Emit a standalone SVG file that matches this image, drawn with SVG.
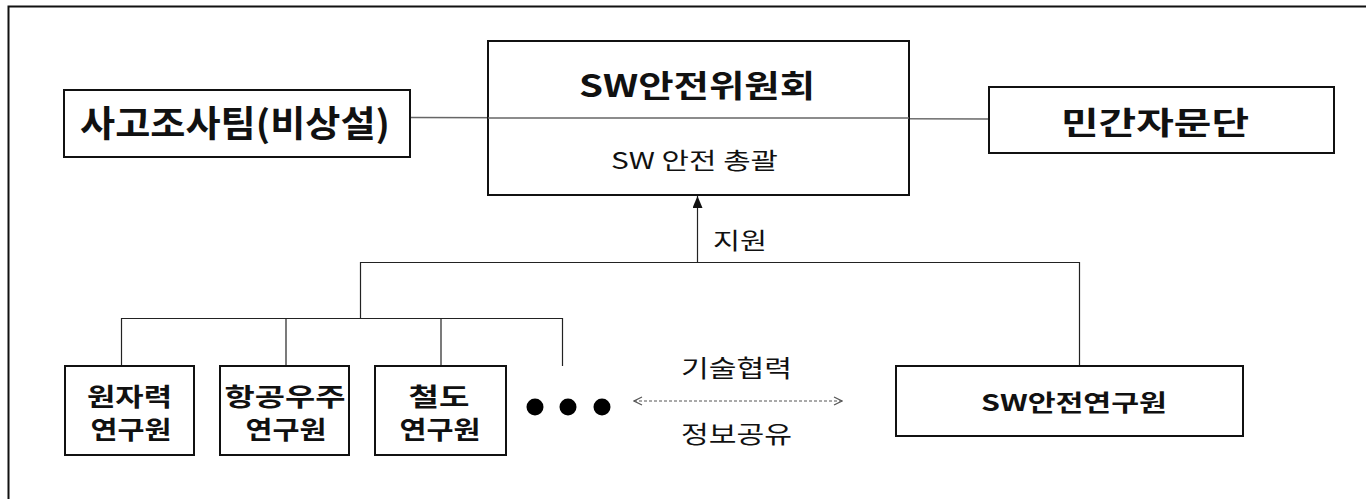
<svg xmlns="http://www.w3.org/2000/svg" width="1366" height="499" viewBox="0 0 1366 499">
  <defs>
    <style>
      .box { fill: #fff; stroke: #111; stroke-width: 2; }
      .t { font-family: "Noto Sans CJK KR", "Noto Sans", sans-serif; fill: #111; text-anchor: middle; dominant-baseline: central; }
      .b { font-weight: bold; }
      .ln { fill: none; stroke: #222; stroke-width: 1.2; }
      .gl { fill: none; stroke: #666; stroke-width: 1.4; }
      .dash { fill: none; stroke: #555; stroke-width: 1.2; stroke-dasharray: 3 2; }
    </style>
    <marker id="tri" markerWidth="12" markerHeight="10" refX="12" refY="5" orient="auto" markerUnits="userSpaceOnUse" viewBox="0 0 12 10">
      <path d="M0,0 L12,5 L0,10 Z" fill="#111"/>
    </marker>
    <marker id="chev" markerWidth="10" markerHeight="10" refX="9" refY="5" orient="auto-start-reverse" markerUnits="userSpaceOnUse" viewBox="0 0 10 10">
      <path d="M1,1 L9,5 L1,9" fill="none" stroke="#555" stroke-width="1.2"/>
    </marker>
  </defs>

  <rect x="0" y="0" width="1366" height="499" fill="#fff"/>
  <rect id="frame" x="8.5" y="6.5" width="1400" height="520" fill="none" stroke="#111" stroke-width="2"/>

  <g id="connectors">
    <line class="gl" x1="410" y1="117.5" x2="989" y2="119"/>
    <line class="ln" x1="697.5" y1="262" x2="697.5" y2="196" marker-end="url(#tri)"/>
    <polyline class="ln" points="360.5,318 360.5,262.5 1079.5,262.5 1079.5,366"/>
    <line class="ln" x1="121" y1="318.5" x2="562.5" y2="318.5"/>
    <line class="ln" x1="121.5" y1="318" x2="121.5" y2="366"/>
    <line class="ln" x1="286" y1="318" x2="286" y2="366"/>
    <line class="ln" x1="441" y1="318" x2="441" y2="366"/>
    <line class="ln" x1="562.5" y1="318" x2="562.5" y2="366"/>
    <line class="dash" x1="634" y1="401" x2="842" y2="401" marker-start="url(#chev)" marker-end="url(#chev)"/>
    <text class="t" x="740" y="239" textLength="54" lengthAdjust="spacingAndGlyphs" font-size="23">지원</text>
    <text class="t" x="736.5" y="366" textLength="111" lengthAdjust="spacingAndGlyphs" font-size="24">기술협력</text>
    <text class="t" x="736.5" y="432" textLength="111" lengthAdjust="spacingAndGlyphs" font-size="24">정보공유</text>
  </g>

  <g id="accident-team">
    <rect class="box" x="64" y="90" width="346" height="67"/>
    <text class="t b" x="235" y="121" font-size="36" textLength="310" lengthAdjust="spacingAndGlyphs">사고조사팀(비상설)</text>
  </g>

  <g id="committee">
    <rect class="box" x="488" y="41" width="421" height="154"/>
    <line class="gl" x1="488" y1="118" x2="909" y2="118"/>
    <text class="t b" x="697" y="83" font-size="31" textLength="236" lengthAdjust="spacingAndGlyphs">SW안전위원회</text>
    <text class="t" x="694.5" y="158.5" font-size="23" textLength="167" lengthAdjust="spacingAndGlyphs">SW 안전 총괄</text>
  </g>

  <g id="advisory">
    <rect class="box" x="989" y="87" width="345" height="66"/>
    <text class="t b" x="1155" y="120" font-size="31" textLength="188" lengthAdjust="spacingAndGlyphs">민간자문단</text>
  </g>

  <g id="nuclear">
    <rect class="box" x="65" y="366" width="129" height="89"/>
    <text class="t b" x="129.5" y="395" font-size="25" textLength="85" lengthAdjust="spacingAndGlyphs">원자력</text>
    <text class="t b" x="131" y="428" font-size="25" textLength="81" lengthAdjust="spacingAndGlyphs">연구원</text>
  </g>

  <g id="aerospace">
    <rect class="box" x="220" y="366" width="129" height="89"/>
    <text class="t b" x="285" y="395" font-size="25" textLength="121" lengthAdjust="spacingAndGlyphs">항공우주</text>
    <text class="t b" x="286" y="428" font-size="25" textLength="81" lengthAdjust="spacingAndGlyphs">연구원</text>
  </g>

  <g id="railway">
    <rect class="box" x="375" y="366" width="131" height="89"/>
    <text class="t b" x="439" y="395" font-size="25" textLength="61" lengthAdjust="spacingAndGlyphs">철도</text>
    <text class="t b" x="440" y="428" font-size="25" textLength="81" lengthAdjust="spacingAndGlyphs">연구원</text>
  </g>

  <g id="ellipsis">
    <circle cx="535" cy="407" r="8.5" fill="#000"/>
    <circle cx="568" cy="407" r="8.5" fill="#000"/>
    <circle cx="602" cy="407" r="8.5" fill="#000"/>
  </g>

  <g id="sw-institute">
    <rect class="box" x="896" y="366" width="347" height="70"/>
    <text class="t b" x="1074" y="401" font-size="23" textLength="186" lengthAdjust="spacingAndGlyphs">SW안전연구원</text>
  </g>
</svg>
